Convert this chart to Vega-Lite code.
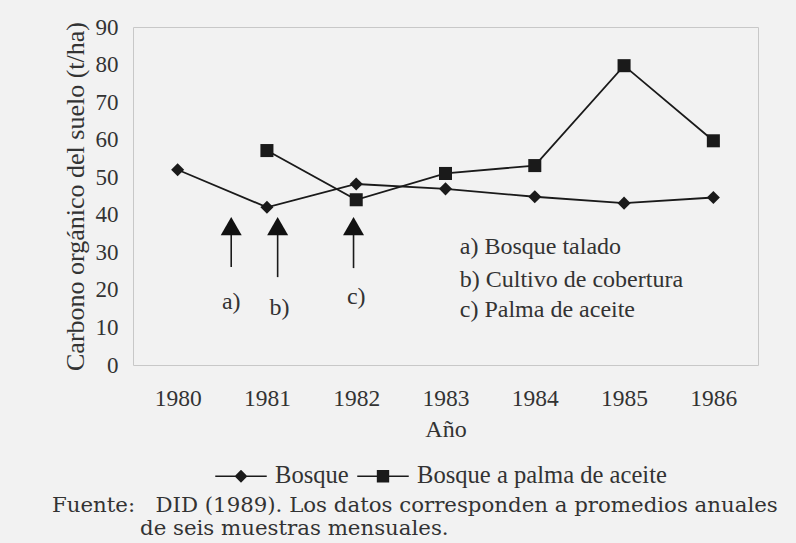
{
  "$schema": "https://vega.github.io/schema/vega-lite/v6.json",
  "width": 625,
  "height": 338,
  "autosize": {"type": "none"},
  "padding": {"left": 133, "top": 27, "right": 38, "bottom": 178},
  "background": "#f2f2f2",
  "config": {
    "view": {"stroke": "#c8c8c8", "strokeWidth": 1},
    "font": "Liberation Serif",
    "axis": {"grid": false, "ticks": false, "tickSize": 0, "domain": false, "labelOverlap": false, "labelColor": "#333", "titleColor": "#333", "labelFont": "Liberation Serif", "titleFont": "Liberation Serif", "titleFontWeight": "normal"}
  },
  "title": {
    "text": ["Fuente:\u00a0\u00a0\u00a0DID (1989). Los datos corresponden a promedios anuales", "\u200b\u00a0\u00a0\u00a0\u00a0\u00a0\u00a0\u00a0\u00a0\u00a0\u00a0\u00a0\u00a0\u00a0de seis muestras mensuales."],
    "orient": "bottom",
    "anchor": "start",
    "frame": "group",
    "dx": -81,
    "offset": 7,
    "font": "DejaVu Serif",
    "fontSize": 21.3,
    "fontWeight": "normal",
    "lineHeight": 23,
    "color": "#333"
  },
  "encoding": {
    "x": {
      "field": "year",
      "type": "quantitative",
      "scale": {"domain": [1979.5, 1986.5], "nice": false, "zero": false},
      "axis": {"values": [1980, 1981, 1982, 1983, 1984, 1985, 1986], "format": "d", "labelOverlap": false, "labelFontSize": 23.5, "labelPadding": 21, "title": "Año", "titleFontSize": 24, "titlePadding": 8}
    },
    "y": {
      "field": "value",
      "type": "quantitative",
      "scale": {"domain": [0, 90], "nice": false},
      "axis": {"values": [0, 10, 20, 30, 40, 50, 60, 70, 80, 90], "tickCount": 10, "labelOverlap": false, "labelFlush": false, "labelFontSize": 23, "labelPadding": 15, "title": "Carbono orgánico del suelo (t/ha)", "titleFontSize": 26, "titlePadding": 7}
    }
  },
  "layer": [
    {
      "data": {"values": [
        {"year": 1980, "value": 52, "serie": "Bosque"},
        {"year": 1981, "value": 42, "serie": "Bosque"},
        {"year": 1982, "value": 48.2, "serie": "Bosque"},
        {"year": 1983, "value": 46.9, "serie": "Bosque"},
        {"year": 1984, "value": 44.8, "serie": "Bosque"},
        {"year": 1985, "value": 43.1, "serie": "Bosque"},
        {"year": 1986, "value": 44.6, "serie": "Bosque"},
        {"year": 1981, "value": 57.1, "serie": "Bosque a palma de aceite"},
        {"year": 1982, "value": 44, "serie": "Bosque a palma de aceite"},
        {"year": 1983, "value": 51, "serie": "Bosque a palma de aceite"},
        {"year": 1984, "value": 53.1, "serie": "Bosque a palma de aceite"},
        {"year": 1985, "value": 79.7, "serie": "Bosque a palma de aceite"},
        {"year": 1986, "value": 59.7, "serie": "Bosque a palma de aceite"}
      ]},
      "resolve": {"scale": {"shape": "independent"}},
      "layer": [
        {
          "mark": {"type": "line", "color": "#1a1a1a", "strokeWidth": 1.8},
          "encoding": {
            "detail": {"field": "serie"}
          }
        },
        {
          "mark": {"type": "point", "filled": true, "color": "#1a1a1a", "opacity": 1, "size": 1},
          "encoding": {
            "shape": {
              "field": "serie",
              "type": "nominal",
              "scale": {"domain": ["Bosque", "Bosque a palma de aceite"], "range": ["M-1,-0.032H1V0.032H-1ZM-0.25,0L0,-0.25L0.25,0L0,0.25Z", "M-1,-0.032H1V0.032H-1ZM-0.24,-0.24H0.24V0.24H-0.24Z"]},
              "legend": {
                "orient": "none",
                "legendX": 82,
                "legendY": 423,
                "direction": "horizontal",
                "title": null,
                "symbolSize": 2650,
                "symbolStrokeWidth": 0,
                "symbolFillColor": "#1a1a1a",
                "symbolOpacity": 1,
                "labelFont": "Liberation Serif",
                "labelFontSize": 24.6,
                "labelColor": "#333",
                "labelOffset": 8,
                "columnPadding": 8,
                "labelLimit": 400
              }
            }
          }
        },
        {
          "mark": {"type": "point", "filled": true, "color": "#1a1a1a", "opacity": 1, "size": 170},
          "encoding": {
            "shape": {
              "field": "serie",
              "type": "nominal",
              "scale": {"domain": ["Bosque", "Bosque a palma de aceite"], "range": ["diamond", "square"]},
              "legend": null
            }
          }
        }
      ]
    },
    {
      "data": {"values": [
        {"year": 1980.6, "value": 34.8, "value2": 26.1},
        {"year": 1981.12, "value": 34.8, "value2": 23.4},
        {"year": 1981.97, "value": 34.8, "value2": 25.8}
      ]},
      "mark": {"type": "rule", "color": "#1a1a1a", "strokeWidth": 1.6},
      "encoding": {
        "y2": {"field": "value2"}
      }
    },
    {
      "data": {"values": [
        {"year": 1980.6, "value": 37.0},
        {"year": 1981.12, "value": 37.0},
        {"year": 1981.97, "value": 37.0}
      ]},
      "mark": {"type": "point", "shape": "triangle-up", "filled": true, "color": "#111", "opacity": 1, "size": 440},
      "encoding": {}
    },
    {
      "data": {"values": [
        {"year": 1980.6, "value": 16.8, "label": "a)"},
        {"year": 1981.14, "value": 15.2, "label": "b)"},
        {"year": 1982.0, "value": 18.1, "label": "c)"}
      ]},
      "mark": {"type": "text", "font": "Liberation Serif", "fontSize": 24, "color": "#333", "baseline": "middle", "align": "center"},
      "encoding": {
        "text": {"field": "label"}
      }
    },
    {
      "data": {"values": [
        {"year": 1983.16, "value": 31.4, "label": "a) Bosque talado"},
        {"year": 1983.16, "value": 22.6, "label": "b) Cultivo de cobertura"},
        {"year": 1983.16, "value": 14.6, "label": "c) Palma de aceite"}
      ]},
      "mark": {"type": "text", "font": "Liberation Serif", "fontSize": 24, "color": "#333", "baseline": "middle", "align": "left"},
      "encoding": {
        "text": {"field": "label"}
      }
    }
  ]
}
